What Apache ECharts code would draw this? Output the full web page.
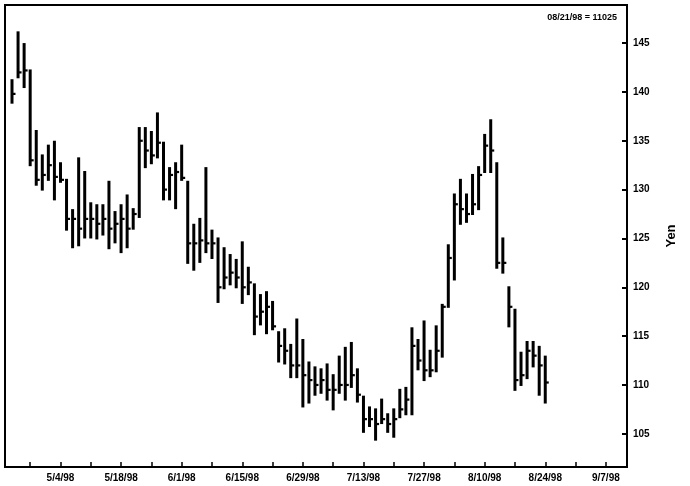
<!DOCTYPE html>
<html>
<head>
<meta charset="utf-8">
<script src="https://cdn.jsdelivr.net/npm/echarts@6/dist/echarts.min.js"></script>
<style>
html,body{margin:0;padding:0;background:#fff;}
#chart{width:690px;height:486px;}
</style>
</head>
<body>
<div id="chart"></div>
<script>
// Trading-day index of the first bar (4/27/98 Monday = 0)
var firstIndex = -3;
var highs = [141.2,146.1,144.9,142.2,136.0,133.5,134.5,134.9,132.7,131.0,
  127.9,133.2,131.8,128.6,128.4,128.4,130.8,127.7,128.4,129.4,
  128.0,136.3,136.3,135.9,137.8,134.8,132.2,132.7,134.5,130.8,
  126.4,127.0,132.2,125.8,125.0,124.0,123.3,122.8,124.6,122.0,
  120.3,119.2,119.5,118.5,115.4,115.7,114.1,116.7,114.6,112.3,
  111.8,111.6,112.1,111.0,112.9,113.8,114.3,111.6,108.8,107.7,
  107.5,108.5,107.0,107.5,109.5,109.7,115.8,114.6,116.5,113.5,
  116.0,118.2,124.3,129.5,131.0,129.5,131.5,132.3,135.6,137.1,
  132.7,125.0,120.0,117.7,113.3,114.4,114.4,113.9,112.9];
var lows = [138.9,141.5,140.5,132.5,130.5,130.0,131.0,129.0,130.8,125.9,
  124.1,124.3,125.1,125.1,125.0,125.4,124.0,124.6,123.6,124.1,
  126.0,127.2,132.3,132.7,133.3,129.0,129.0,128.1,131.0,122.5,
  121.8,122.6,123.6,123.0,118.5,119.9,120.3,120.0,118.4,119.3,
  115.2,116.2,115.3,115.7,112.4,112.2,110.8,110.8,107.8,108.2,
  109.0,109.2,108.5,107.5,109.2,108.5,109.8,108.3,105.2,105.8,
  104.4,106.1,105.2,104.7,106.7,107.0,107.0,111.6,110.5,110.9,
  111.4,112.9,118.0,120.8,126.5,126.7,127.5,128.0,131.8,131.8,
  122.0,121.5,116.0,109.5,110.0,110.7,111.9,109.0,108.2];
var closes = [139.8,142.0,142.2,133.0,131.0,131.5,132.5,131.3,131.0,127.0,
  127.0,126.0,127.0,127.0,126.5,127.0,126.0,126.5,127.0,126.0,
  127.5,135.0,134.0,133.5,134.8,130.0,131.5,131.8,131.2,124.5,
  124.5,124.8,124.5,124.5,120.0,121.0,121.5,121.0,120.0,120.5,
  117.0,117.5,118.0,116.0,114.0,113.5,112.0,112.0,111.0,110.5,
  110.0,110.5,109.5,109.5,110.0,110.0,111.0,109.0,106.5,106.5,
  106.0,106.5,106.0,106.5,107.5,108.5,114.0,112.5,111.5,111.5,
  113.5,118.0,123.0,128.5,128.0,127.5,128.5,131.5,134.5,134.0,
  122.5,122.5,118.0,110.5,111.0,113.5,113.0,112.0,110.25];

var weekTickIndex = [0,5,10,15,20,25,30,35,40,45,50,55,60,65,70,75,80,85,90,95];
var labelIndex = [5,15,25,35,45,55,65,75,85,95];
var labelText = ['5/4/98','5/18/98','6/1/98','6/15/98','6/29/98','7/13/98','7/27/98','8/10/98','8/24/98','9/7/98'];
var yTicks = [105,110,115,120,125,130,135,140,145];
var titleText = '08/21/98 = 11025';
var yName = 'Yen';

var barData = highs.map(function(h, k){
  return [firstIndex + k, h, lows[k], closes[k]];
});

var chart = echarts.init(document.getElementById('chart'), null, {renderer:'canvas'});
var font = 'Liberation Sans';
chart.setOption({
  animation:false,
  backgroundColor:'#fff',
  title:{
    text:titleText, right:68, top:8,
    textStyle:{fontFamily:font, fontWeight:'bold', fontSize:9, color:'#000'}
  },
  grid:{left:5, top:5, right:63, bottom:19, show:true, borderColor:'#000', borderWidth:2, containLabel:false},
  xAxis:{
    type:'value', min:-4.155, max:98.49,
    axisLine:{show:true, onZero:false, lineStyle:{color:'#000', width:2}},
    splitLine:{show:false},
    axisTick:{show:true, inside:true, length:5, customValues:weekTickIndex, lineStyle:{color:'#000', width:1.5}},
    axisLabel:{
      customValues:labelIndex, margin:6,
      fontFamily:font, fontWeight:'bold', fontSize:10, color:'#000',
      formatter:function(v){ var p = labelIndex.indexOf(Math.round(v)); return p>=0 ? labelText[p] : ''; }
    }
  },
  yAxis:{
    type:'value', position:'right', min:101.6, max:148.9,
    name:yName, nameLocation:'middle', nameGap:38, nameRotate:90,
    nameTextStyle:{fontFamily:font, fontWeight:'bold', fontSize:13, color:'#000'},
    axisLine:{show:true, onZero:false, lineStyle:{color:'#000', width:2}},
    splitLine:{show:false},
    axisTick:{show:true, inside:true, length:5, customValues:yTicks, lineStyle:{color:'#000', width:2}},
    axisLabel:{customValues:yTicks, margin:6, fontFamily:font, fontWeight:'bold', fontSize:10, color:'#000'}
  },
  series:[{
    type:'custom',
    data:barData,
    encode:{x:0, y:[1,2,3]},
    renderItem:function(params, api){
      var x = api.value(0);
      var pH = api.coord([x, api.value(1)]);
      var pL = api.coord([x, api.value(2)]);
      var pC = api.coord([x, api.value(3)]);
      return {type:'group', children:[
        {type:'line', shape:{x1:pH[0], y1:pH[1]-1, x2:pL[0], y2:pL[1]+1}, style:{stroke:'#000', lineWidth:3}},
        {type:'line', shape:{x1:pC[0], y1:pC[1], x2:pC[0]+3.5, y2:pC[1]}, style:{stroke:'#000', lineWidth:2.2}}
      ]};
    }
  }]
});
</script>
</body>
</html>
